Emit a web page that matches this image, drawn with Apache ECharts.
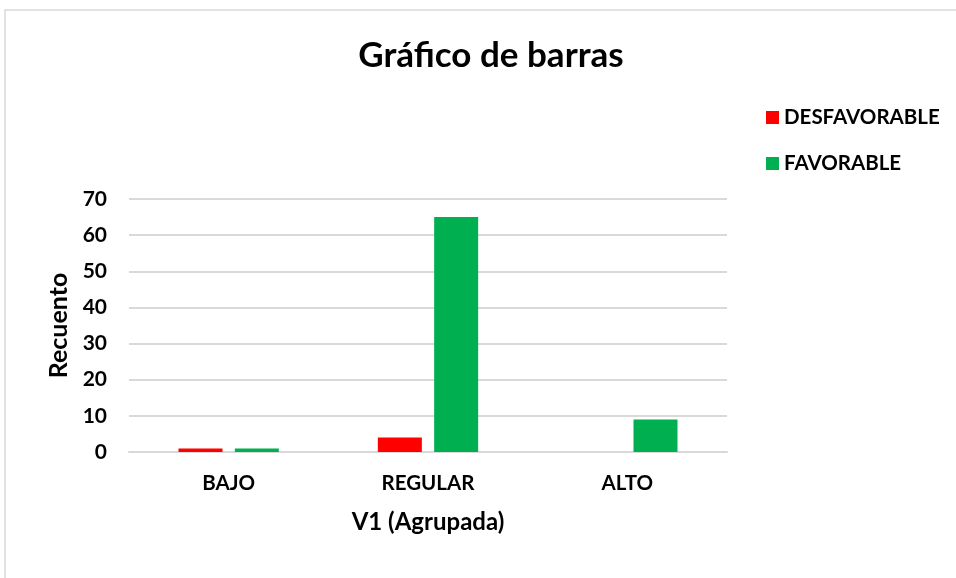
<!DOCTYPE html>
<html>
<head>
<meta charset="utf-8">
<script src="https://cdn.jsdelivr.net/npm/echarts@6/dist/echarts.min.js"></script>
<style>
  html, body { margin: 0; padding: 0; background: #fff; }
  #chart { width: 956px; height: 578px; }
</style>
</head>
<body>
<div id="chart"></div>
<script>
const categories = ['BAJO', 'REGULAR', 'ALTO']
const desfavorable = [1, 4, 0]
const favorable = [1, 65, 9]
const seriesNames = ['DESFAVORABLE', 'FAVORABLE']

const font = 'Lato, "Open Sans", sans-serif'
const chart = echarts.init(document.getElementById('chart'))

chart.setOption({
  animation: false,
  textStyle: { fontFamily: font },
  graphic: [
    {
      type: 'rect',
      shape: { x: 5, y: 10, width: 980, height: 600 },
      style: { fill: 'none', stroke: '#d9d9d9', lineWidth: 1.5 },
      silent: true
    }
  ],
  title: {
    text: 'Gráfico de barras',
    left: 486,
    top: 33,
    textAlign: 'center',
    textStyle: { fontSize: 35, fontWeight: 'bold', color: '#000', fontFamily: font }
  },
  legend: {
    orient: 'vertical',
    left: 761,
    top: 102,
    itemWidth: 13,
    itemHeight: 13,
    itemGap: 25,
    icon: 'rect',
    textStyle: { fontSize: 20.5, fontWeight: 'bold', color: '#000', fontFamily: font },
    data: seriesNames
  },
  grid: {
    left: 129,
    right: 229,
    top: 199,
    bottom: 126
  },
  xAxis: {
    type: 'category',
    data: categories,
    name: 'V1 (Agrupada)',
    nameLocation: 'middle',
    nameGap: 58,
    nameTextStyle: { fontSize: 24, fontWeight: 'bold', color: '#000', fontFamily: font },
    axisLine: { lineStyle: { color: '#d9d9d9', width: 2 } },
    axisTick: { show: false },
    axisLabel: { fontSize: 20.5, fontWeight: 'bold', color: '#000', margin: 21, fontFamily: font }
  },
  yAxis: {
    type: 'value',
    min: 0,
    max: 70,
    interval: 10,
    name: 'Recuento',
    nameLocation: 'middle',
    nameGap: 56,
    nameRotate: 90,
    nameTextStyle: { fontSize: 25, fontWeight: 'bold', color: '#000', fontFamily: font },
    axisLine: { show: false },
    axisTick: { show: false },
    splitLine: { lineStyle: { color: '#d9d9d9', width: 2 } },
    axisLabel: { fontSize: 21, fontWeight: 'bold', color: '#000', margin: 22, fontFamily: font }
  },
  series: [
    {
      name: seriesNames[0],
      type: 'bar',
      data: desfavorable,
      barWidth: 44,
      barGap: '28%',
      itemStyle: { color: '#ff0000' }
    },
    {
      name: seriesNames[1],
      type: 'bar',
      data: favorable,
      barWidth: 44,
      barGap: '28%',
      itemStyle: { color: '#00b050' }
    }
  ]
})
</script>
</body>
</html>
